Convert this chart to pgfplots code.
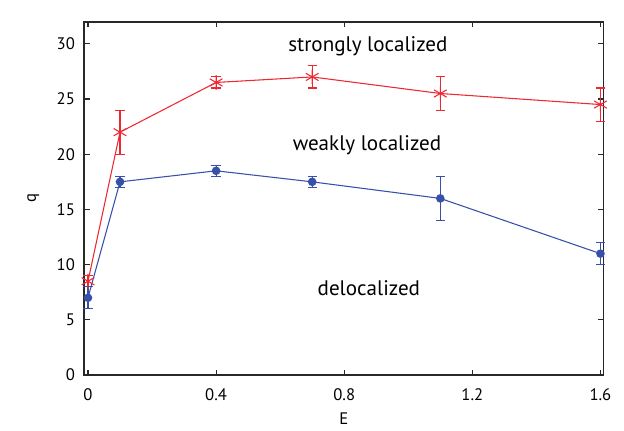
\documentclass[border=0pt]{standalone}
\usepackage{pgfplots}
\pgfplotsset{compat=1.18}
\usepackage{fontspec}
\setmainfont{PT Sans}
\definecolor{myred}{RGB}{238,40,50}
\definecolor{myblue}{RGB}{55,80,170}
\definecolor{axgray}{RGB}{40,40,40}
\begin{document}
\begin{tikzpicture}[x=1pt,y=1pt]
\useasboundingbox (-63.2pt,-41.25pt) rectangle (404.75pt,281.3pt);
\begin{axis}[
  scale only axis,
  width=389.25pt, height=265pt,
  xmin=-0.0116, xmax=1.609,
  ymin=0, ymax=32,
  xtick={0,0.4,0.8,1.2,1.6},
  xticklabels={0,0.4,0.8,1.2,1.6},
  ytick={0,5,10,15,20,25,30},
  tick align=inside,
  major tick length=4pt,
  tick style={axgray, line width=0.9pt},
  axis line style={axgray, line width=1.2pt},
  every tick label/.append style={font=\fontsize{12.5}{14}\selectfont, text=black},
  xticklabel style={yshift=-6.5pt},
  yticklabel style={xshift=-3.5pt},
  /pgf/number format/assume math mode=true,
  xlabel={E}, ylabel={q},
  label style={font=\fontsize{12.5}{14}\selectfont},
  xlabel style={at={(axis description cs:0.5,-0.124)}, anchor=center},
  ylabel style={at={(axis description cs:-0.098,0.5)}, anchor=center},
  clip=false,
]
\addplot[myred, line width=0.8pt, mark=asterisk, mark size=5.5pt,
  error bars/.cd, y dir=both, y explicit,
  error bar style={line width=0.8pt},
  error mark options={rotate=90, mark size=3.5pt, line width=0.8pt}]
  coordinates {
  (0,8.5) +- (0,0.5)
  (0.1,22) +- (0,2)
  (0.4,26.5) +- (0,0.5)
  (0.7,27) +- (0,1)
  (1.1,25.5) +- (0,1.5)
  (1.6,24.5) +- (0,1.5)
  };
\addplot[myblue, line width=0.8pt, mark=*, mark size=2.8pt,
  error bars/.cd, y dir=both, y explicit,
  error bar style={line width=0.8pt},
  error mark options={rotate=90, mark size=3.5pt, line width=0.8pt}]
  coordinates {
  (0,7) +- (0,1)
  (0.1,17.5) +- (0,0.5)
  (0.4,18.5) +- (0,0.5)
  (0.7,17.5) +- (0,0.5)
  (1.1,16) +- (0,2)
  (1.6,11) +- (0,1)
  };
\node[font=\fontsize{15.8}{18}\selectfont] at (axis cs:0.874,29.8) {strongly localized};
\node[font=\fontsize{15.8}{18}\selectfont] at (axis cs:0.871,20.8) {weakly localized};
\node[font=\fontsize{15.8}{18}\selectfont] at (axis cs:0.877,7.9) {delocalized};
\end{axis}
\end{tikzpicture}
\end{document}
